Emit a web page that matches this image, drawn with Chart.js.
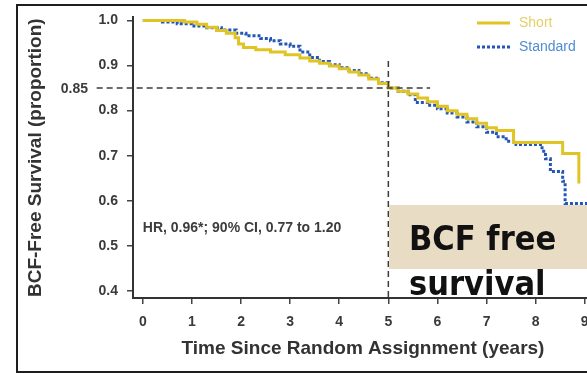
<!DOCTYPE html>
<html>
<head>
<meta charset="utf-8">
<title>BCF-free survival</title>
<script src="https://cdn.jsdelivr.net/npm/chart.js@4.4.1/dist/chart.umd.min.js"></script>
<style>
  html, body { margin: 0; padding: 0; background: #fff; width: 587px; height: 373px; overflow: hidden; }
  #wrap { position: relative; width: 587px; height: 373px; overflow: hidden; }
  #chart { position: absolute; left: 0; top: 0; }
  #frame { position: absolute; left: 16px; top: 4px; width: 700px; height: 365px; border: 2px solid #1e1e1e; pointer-events: none; }
  #callout { position: absolute; left: 389px; top: 205px; width: 220px; height: 64px; background: #e8dcc4; }
  #callout-text {
    position: absolute; left: 409px; top: 216px;
    font: bold 34px "DejaVu Sans"; line-height: 45px; color: #111;
    transform: scaleX(0.9); transform-origin: 0 0; white-space: nowrap;
  }
</style>
</head>
<body>
<div id="wrap">
  <canvas id="chart" width="600" height="373"></canvas>
  <div id="frame"></div>
  <div id="callout"></div>
  <div id="callout-text">BCF free<br>survival</div>
</div>
<script>
// Kaplan-Meier steps: time of drop (years) and survival after the drop
const shortTimes = [0, 0.85, 1.1, 1.3, 1.5, 1.7, 1.88, 1.95, 2.05, 2.3, 2.6, 2.9, 3.2, 3.4, 3.6, 3.8,
  4.0, 4.2, 4.4, 4.6, 4.8, 5.0, 5.2, 5.4, 5.6, 5.8, 6.0, 6.2, 6.4, 6.6, 6.8, 7.0, 7.2, 7.55, 8.55, 8.88];
const shortSurv = [1.0, 0.997, 0.992, 0.985, 0.978, 0.972, 0.962, 0.948, 0.94, 0.935, 0.93, 0.924, 0.917, 0.91, 0.905, 0.899,
  0.893, 0.886, 0.879, 0.870, 0.860, 0.850, 0.843, 0.837, 0.828, 0.820, 0.810, 0.800, 0.792, 0.782, 0.772, 0.762, 0.756, 0.729, 0.705, 0.638];

const standardTimes = [0, 0.4, 0.7, 1.0, 1.3, 1.6, 1.9, 2.1, 2.4, 2.6, 2.8, 3.0, 3.2, 3.4, 3.6, 3.8,
  4.0, 4.2, 4.4, 4.6, 4.8, 5.0, 5.2, 5.4, 5.55, 5.8, 6.0, 6.2, 6.4, 6.6, 6.8, 7.0, 7.2, 7.4, 7.6,
  8.13, 8.2, 8.3, 8.55, 8.6, 9.3];
const standardSurv = [1.0, 0.997, 0.993, 0.988, 0.984, 0.979, 0.972, 0.966, 0.960, 0.955, 0.948, 0.943, 0.930, 0.918, 0.909, 0.902,
  0.895, 0.889, 0.882, 0.872, 0.862, 0.850, 0.843, 0.835, 0.818, 0.812, 0.804, 0.795, 0.786, 0.775, 0.764, 0.752, 0.742, 0.732, 0.725,
  0.710, 0.693, 0.665, 0.643, 0.594, 0.594];

const xTicks = [0, 1, 2, 3, 4, 5, 6, 7, 8, 9];
const yTicks = [0.4, 0.5, 0.6, 0.7, 0.8, 0.9, 1.0];

// 5-year guide lines at 85% survival
const refLevel = 0.85;
const refYear = 5;
const refLineX = [-0.94, 5.85];
const refLineY = [0.91, 0.384];

const xTitle = "Time Since Random Assignment (years)";
const yTitle = "BCF-Free Survival (proportion)";
const hrNote = "HR, 0.96*; 90% CI, 0.77 to 1.20";

const toPoints = (xs, ys) => xs.map((t, i) => ({ x: t, y: ys[i] }));

const tickFont = { family: "Liberation Sans", size: 14, weight: "bold" };
const titleFont = { family: "Liberation Sans", size: 19, weight: "bold" };

/* Labels drawn on the plot: the 0.85 marker and the hazard ratio note. */
const notes = {
  id: "notes",
  afterDatasetsDraw(chart) {
    const { ctx, scales: { x, y } } = chart;
    ctx.save();
    ctx.font = 'bold 14px "Liberation Sans"';
    ctx.fillStyle = "#3c3c3c";
    ctx.textBaseline = "middle";
    ctx.textAlign = "right";
    ctx.fillText(refLevel.toFixed(2), 88, y.getPixelForValue(refLevel) + 1);
    ctx.textAlign = "left";
    ctx.fillText(hrNote, x.getPixelForValue(0), y.getPixelForValue(0.54));
    ctx.restore();
  }
};

/* Small key in the top right corner, built from the series datasets. */
const seriesKey = {
  id: "seriesKey",
  afterDraw(chart) {
    const ctx = chart.ctx;
    const rows = chart.data.datasets.filter((d) => d.keyColor);
    rows.forEach((ds, i) => {
      const y = 23 + i * 24;
      ctx.save();
      ctx.strokeStyle = ds.borderColor;
      ctx.lineWidth = ds.borderWidth;
      ctx.setLineDash(ds.borderDash || []);
      ctx.beginPath();
      ctx.moveTo(477, y);
      ctx.lineTo(510, y);
      ctx.stroke();
      ctx.setLineDash([]);
      ctx.fillStyle = ds.keyColor;
      ctx.font = '14px "Liberation Sans"';
      ctx.textBaseline = "middle";
      ctx.fillText(ds.label, 519, y);
      ctx.restore();
    });
  }
};

new Chart(document.getElementById("chart"), {
  type: "line",
  data: {
    datasets: [
      {
        data: toPoints(refLineX, [refLevel, refLevel]),
        borderColor: "#3a3a3a", borderWidth: 1.5, borderDash: [6, 4],
        pointRadius: 0, clip: false, order: 0
      },
      {
        data: toPoints([refYear, refYear], refLineY),
        borderColor: "#3a3a3a", borderWidth: 1.5, borderDash: [6, 4],
        pointRadius: 0, order: 0
      },
      {
        label: "Short",
        data: toPoints(shortTimes, shortSurv),
        borderColor: "#e0c325", keyColor: "#e6d067",
        borderWidth: 3, stepped: "before", pointRadius: 0, order: 1
      },
      {
        label: "Standard",
        data: toPoints(standardTimes, standardSurv),
        borderColor: "#2456b5", keyColor: "#4f8cd4",
        borderWidth: 3, borderDash: [3, 2], stepped: "before", pointRadius: 0, order: 2
      }
    ]
  },
  options: {
    responsive: false,
    animation: false,
    layout: { padding: { left: 0, top: 14, right: 7, bottom: 0 } },
    plugins: { legend: { display: false }, tooltip: { enabled: false } },
    scales: {
      x: {
        type: "linear",
        min: -0.2,
        max: 9.168,
        afterBuildTicks: (s) => { s.ticks = xTicks.map((v) => ({ value: v })); },
        afterFit: (s) => { s.height = 75; },
        grid: { drawOnChartArea: false, drawTicks: true, tickLength: 6, color: "#444", lineWidth: 1.5 },
        border: { display: true, color: "#333", width: 2 },
        ticks: { padding: 10, maxRotation: 0, color: "#3a3a3a", font: tickFont },
        title: { display: true, text: xTitle, color: "#333", font: titleFont, padding: { top: 0, bottom: 12.6 } }
      },
      y: {
        min: 0.384,
        max: 1.007,
        afterBuildTicks: (s) => { s.ticks = yTicks.map((v) => ({ value: v })); },
        afterFit: (s) => { s.width = 133; },
        grid: { drawOnChartArea: false, drawTicks: true, tickLength: 6, color: "#444", lineWidth: 1.5 },
        border: { display: true, color: "#333", width: 2 },
        ticks: { padding: 9, color: "#3a3a3a", font: tickFont, callback: (v) => v.toFixed(1) },
        title: { display: true, text: yTitle, color: "#333", font: titleFont, padding: { top: 24, bottom: 0 } }
      }
    }
  },
  plugins: [notes, seriesKey]
});
</script>
</body>
</html>
